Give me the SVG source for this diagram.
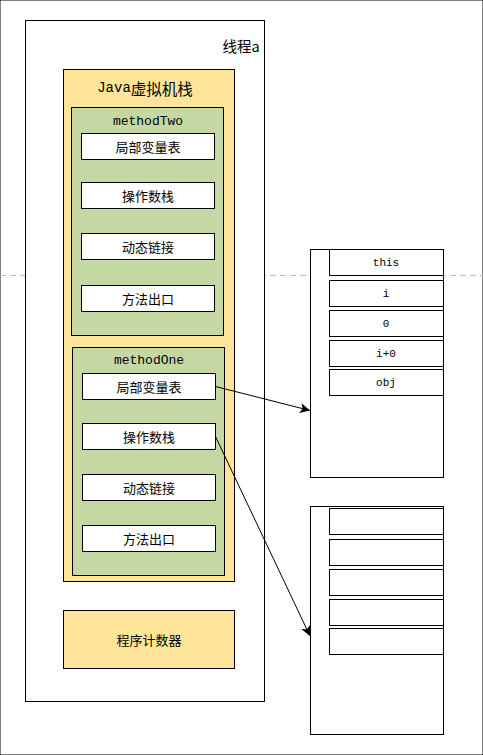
<svg xmlns="http://www.w3.org/2000/svg" width="483" height="755" viewBox="0 0 483 755">
<defs>
<marker id="arr" viewBox="0 0 10 10" refX="10" refY="5" markerWidth="10" markerHeight="10" markerUnits="userSpaceOnUse" orient="auto">
<path d="M0,0 L10,5 L0,10 L2.5,5 Z" fill="#000"/>
</marker>
<style>
rect{stroke:#000;stroke-width:1}
.w{fill:#fff}
.y{fill:#FFE599}
.g{fill:#C5D8A4}
.cn{font-family:"Noto Sans CJK SC","Noto Sans",sans-serif;font-size:13px;fill:#000;text-anchor:middle;dominant-baseline:central}
.mono{font-family:"Liberation Mono","DejaVu Sans Mono",monospace;fill:#000;text-anchor:middle;dominant-baseline:central}
</style>
</defs>
<rect width="483" height="755" fill="#fff" stroke="none"/>
<line x1="0" y1="275.5" x2="483" y2="275.5" stroke="#bbb" stroke-dasharray="6,4"/>
<g id="thread">
<rect class="w" x="25.5" y="20.5" width="239" height="681"/>
<text x="241" y="45" class="cn" style="font-size:14.5px">线程a</text>
</g>
<g id="jvmstack">
<rect class="y" x="63.5" y="69.5" width="171" height="512"/>
<text x="145" y="88" class="mono" style="font-size:14px">Java<tspan style="font-family:'Noto Sans CJK SC',sans-serif;font-size:15.5px">虚拟机栈</tspan></text>
</g>
<g id="methodTwo">
<rect class="g" x="71.5" y="107.5" width="152" height="228"/>
<text x="148" y="121" class="mono" style="font-size:13px">methodTwo</text>
<rect class="w" x="81.5" y="133.5" width="133" height="26"/>
<text x="148" y="146.5" class="cn">局部变量表</text>
<rect class="w" x="81.5" y="182.5" width="133" height="26"/>
<text x="148" y="195.5" class="cn">操作数栈</text>
<rect class="w" x="81.5" y="233.5" width="133" height="26"/>
<text x="148" y="246.5" class="cn">动态链接</text>
<rect class="w" x="81.5" y="285.5" width="133" height="26"/>
<text x="148" y="298.5" class="cn">方法出口</text>
</g>
<g id="methodOne">
<rect class="g" x="72.5" y="347.5" width="152" height="228"/>
<text x="149" y="360" class="mono" style="font-size:13px">methodOne</text>
<rect class="w" x="82.5" y="373.5" width="133" height="26"/>
<text x="149" y="386.5" class="cn">局部变量表</text>
<rect class="w" x="82.5" y="423.5" width="133" height="26"/>
<text x="149" y="436.5" class="cn">操作数栈</text>
<rect class="w" x="82.5" y="474.5" width="133" height="26"/>
<text x="149" y="487.5" class="cn">动态链接</text>
<rect class="w" x="82.5" y="525.5" width="133" height="26"/>
<text x="149" y="538.5" class="cn">方法出口</text>
</g>
<g id="pc">
<rect class="y" x="63.5" y="610.5" width="171" height="58"/>
<text x="149" y="639.5" class="cn">程序计数器</text>
</g>
<g id="localvars">
<rect class="w" x="310.5" y="249.5" width="133" height="228"/>
<rect class="w" x="329.5" y="249.5" width="114" height="26"/>
<text x="386" y="262.5" class="mono" style="font-size:11px">this</text>
<rect class="w" x="329.5" y="280.5" width="114" height="26"/>
<text x="386" y="293.5" class="mono" style="font-size:11px">i</text>
<rect class="w" x="329.5" y="310.5" width="114" height="26"/>
<text x="386" y="323.5" class="mono" style="font-size:11px">0</text>
<rect class="w" x="329.5" y="340.5" width="114" height="26"/>
<text x="386" y="353.5" class="mono" style="font-size:11px">i+0</text>
<rect class="w" x="329.5" y="369.5" width="114" height="26"/>
<text x="386" y="382.5" class="mono" style="font-size:11px">obj</text>
</g>
<g id="operandstack">
<rect class="w" x="310.5" y="506.5" width="133" height="228"/>
<rect class="w" x="329.5" y="508.5" width="114" height="26"/>
<rect class="w" x="329.5" y="539.5" width="114" height="26"/>
<rect class="w" x="329.5" y="569.5" width="114" height="26"/>
<rect class="w" x="329.5" y="599.5" width="114" height="26"/>
<rect class="w" x="329.5" y="628.5" width="114" height="26"/>
</g>
<g id="connectors" stroke="#000" stroke-width="1" fill="none">
<line x1="215.5" y1="386.5" x2="310" y2="410.5" marker-end="url(#arr)"/>
<line x1="215.5" y1="436.5" x2="310" y2="636" marker-end="url(#arr)"/>
</g>
</svg>
